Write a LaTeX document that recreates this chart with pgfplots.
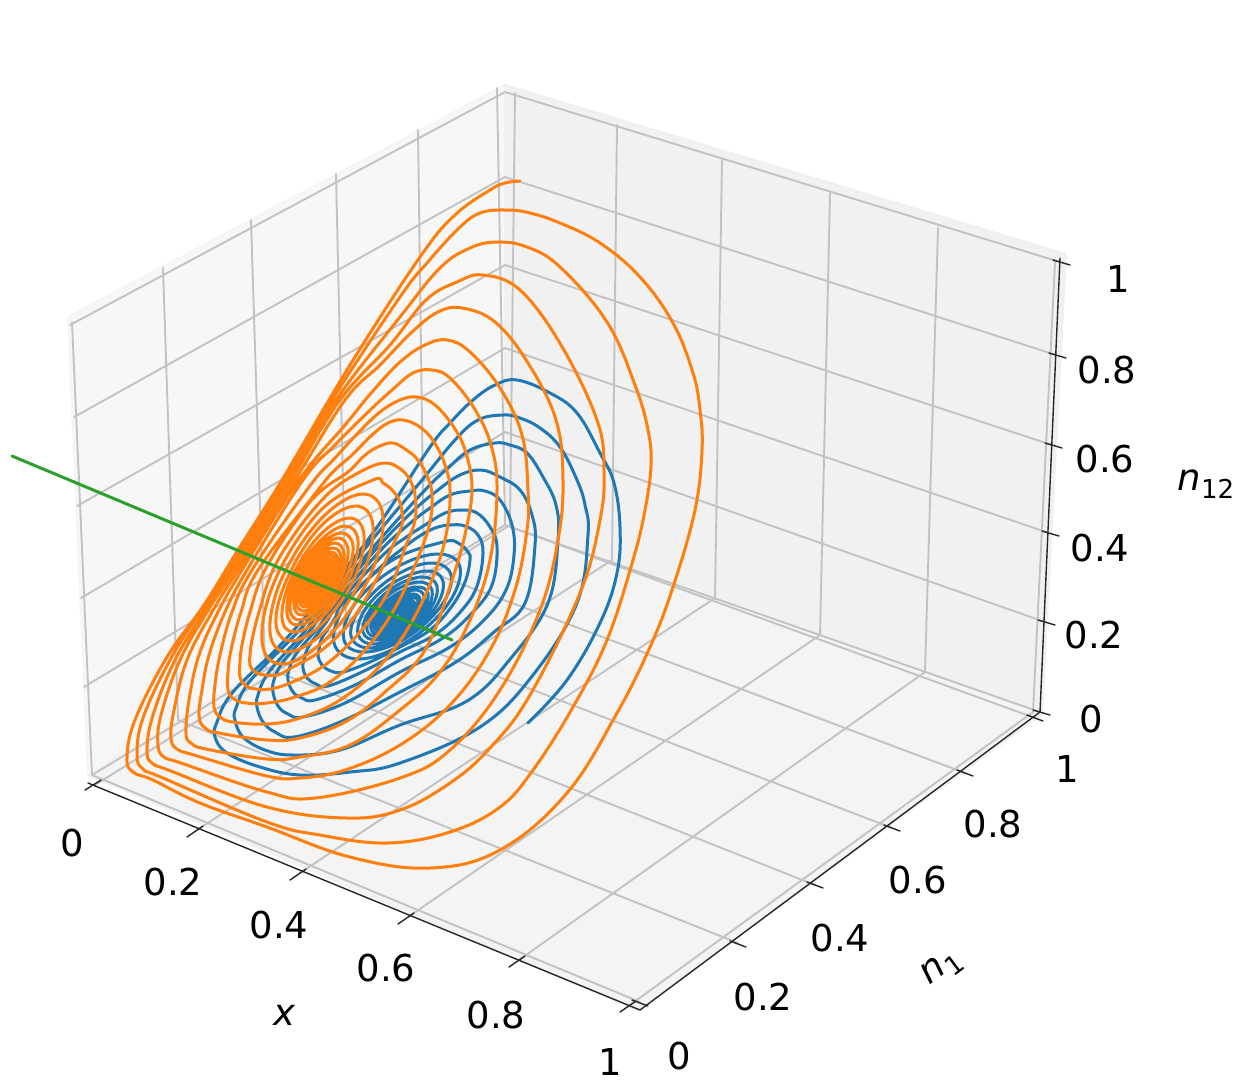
\documentclass[border=0pt]{standalone}
\usepackage{pgfplots}
\pgfplotsset{compat=1.18}
\usepackage{fontspec}
\setmainfont{DejaVu Sans}
\definecolor{cblue}{HTML}{1F77B4}
\definecolor{corange}{HTML}{FF7F0E}
\definecolor{cgreen}{HTML}{2CA02C}
\definecolor{gridc}{HTML}{C2C2C2}
\newcommand{\tl}{\fontsize{18.5}{22}\selectfont}
\begin{document}
\begin{tikzpicture}
\begin{axis}[
  scale only axis, width=628pt, height=541.5pt,
  xmin=0, xmax=1256, ymin=0, ymax=1083, y dir=reverse,
  hide axis, clip=true, no markers,
  every axis plot/.append style={line join=round, line cap=round},
]
% background and panes
\addplot[fill=white,draw=none] coordinates {(0,0)(1256,0)(1256,1083)(0,1083)(0,0)};
\addplot[fill=black!3,draw=black!4,line width=1pt] coordinates {(505,85)(68,317)(88,775)(505,521)(505,85)};
\addplot[fill=black!5.5,draw=black!6,line width=1pt] coordinates {(505,85)(1066,254)(1042,714)(505,521)(505,85)};
\addplot[fill=black!4.5,draw=black!5,line width=1pt] coordinates {(505,521)(88,775)(637,1010)(1042,714)(505,521)};
% grid: left wall
\pgfplotsset{gr/.style={gridc,line width=0.95pt}}
\addplot[gr] coordinates {(72,322)(92,775)};
\addplot[gr] coordinates {(163,268)(178,720)};
\addplot[gr] coordinates {(251,220)(265,667)};
\addplot[gr] coordinates {(336,174)(346,618)};
\addplot[gr] coordinates {(418,130)(424,570)};
\addplot[gr] coordinates {(497,88)(505,525)};
\addplot[gr] coordinates {(92,775)(505,525)};
\addplot[gr] coordinates {(84,687)(505,432)};
\addplot[gr] coordinates {(81,598)(505,348)};
\addplot[gr] coordinates {(77,506)(505,265)};
\addplot[gr] coordinates {(74,417)(505,177)};
\addplot[gr] coordinates {(70,325)(505,92)};
% grid: right wall
\addplot[gr] coordinates {(515,93)(510,525)};
\addplot[gr] coordinates {(617,125)(612,560)};
\addplot[gr] coordinates {(722,160)(715,598)};
\addplot[gr] coordinates {(830,193)(820,635)};
\addplot[gr] coordinates {(938,228)(925,672)};
\addplot[gr] coordinates {(1055,262)(1033,712)};
\addplot[gr] coordinates {(505,92)(1060,262)};
\addplot[gr] coordinates {(505,177)(1056,355)};
\addplot[gr] coordinates {(505,265)(1052,445)};
\addplot[gr] coordinates {(505,348)(1049,533)};
\addplot[gr] coordinates {(505,432)(1045,622)};
\addplot[gr] coordinates {(505,525)(1040,712)};
% grid: floor
\addplot[gr] coordinates {(95,785)(510,525)};
\addplot[gr] coordinates {(197,830)(612,560)};
\addplot[gr] coordinates {(300,873)(715,598)};
\addplot[gr] coordinates {(408,917)(820,635)};
\addplot[gr] coordinates {(519,960)(925,672)};
\addplot[gr] coordinates {(630,1005)(1033,712)};
\addplot[gr] coordinates {(92,775)(640,1002)};
\addplot[gr] coordinates {(178,720)(738,943)};
\addplot[gr] coordinates {(265,667)(815,885)};
\addplot[gr] coordinates {(346,618)(892,828)};
\addplot[gr] coordinates {(424,570)(965,773)};
\addplot[gr] coordinates {(505,525)(1035,718)};
% axes
\pgfplotsset{ax/.style={black!85,line width=0.7pt}}
\addplot[ax] coordinates {(88,783)(640,1010)(1040,712)(1060,258)};
\addplot[ax] coordinates {(85,790)(101,780)};
\addplot[ax] coordinates {(187,837)(203,826)};
\addplot[ax] coordinates {(290,880)(306,869)};
\addplot[ax] coordinates {(398,924)(414,913)};
\addplot[ax] coordinates {(509,967)(525,956)};
\addplot[ax] coordinates {(620,1012)(636,1001)};
\addplot[ax] coordinates {(632,1000)(648,1006)};
\addplot[ax] coordinates {(730,941)(746,947)};
\addplot[ax] coordinates {(807,882)(823,888)};
\addplot[ax] coordinates {(884,825)(900,831)};
\addplot[ax] coordinates {(957,770)(973,776)};
\addplot[ax] coordinates {(1027,715)(1043,721)};
\addplot[ax] coordinates {(1033,710)(1050,715)};
\addplot[ax] coordinates {(1038,620)(1055,625)};
\addplot[ax] coordinates {(1042,531)(1059,536)};
\addplot[ax] coordinates {(1045,443)(1062,448)};
\addplot[ax] coordinates {(1049,353)(1066,358)};
\addplot[ax] coordinates {(1053,260)(1070,265)};
% blue curve
\addplot[cblue,line width=1.5pt,smooth,tension=0.65] coordinates {
(528,723)(567,680)(600,623)(617,573)(620,527)(614,483)(600,453)(577,413)(550,393)(517,380)
(495,385)(473,400)(450,423)(430,447)(380,523)(340,575)(285,640)(233,692)(217,722)(215,737)(227,753)(260,767)(300,775)(350,772)(400,763)(480,727)(533,675)(577,603)(588,535)(585,505)(577,480)(560,447)(540,428)(520,418)(503,415)
(478,420)(455,440)(422,480)(372,540)(322,603)(294,636)(250,681)(236,708)(235,720)(243,737)(265,750)(293,755)(340,750)(400,725)(467,701)(511,658)(548,603)(558,540)(556,505)(543,477)(527,453)(510,445)(495,443)
(470,450)(448,468)(425,490)(375,545)(326,603)(304,632)(269,672)(258,695)(257,707)(263,722)(275,732)(294,737)(340,722)(400,692)(456,662)(494,632)(525,603)(535,545)(532,515)(520,490)(500,477)(481,470)
(460,475)(438,490)(412,512)(377,548)(330,603)(312,628)(283,662)(274,680)(273,692)(278,706)(288,714)(303,717)(345,703)(400,672)(450,647)(484,620)(506,590)(514,555)(512,525)(500,500)(485,491)(470,491)
(450,495)(430,508)(408,525)(380,551)(335,603)(320,625)(296,654)(289,670)(288,680)(293,692)(302,698)(315,700)(355,685)(400,660)(443,638)(472,613)(492,585)(497,547)(490,527)(477,513)(462,510)
(445,513)(425,525)(405,538)(382,556)(339,603)(327,621)(309,646)(304,660)(303,668)(307,678)(316,684)(328,686)(362,672)(400,652)(436,634)(462,610)(477,586)(483,553)(478,535)(465,526)(450,525)
(435,528)(418,537)(402,549)(385,563)(343,603)(335,618)(322,638)(319,650)(318,656)(322,665)(331,671)(343,672)(370,662)(400,647)(430,630)(452,606)(465,582)(470,560)(468,552)(458,543)(443,542)
(391,561)(347,603)(334,643)(360,659)(408,641)(448,604)(460,567)(436,554)
(392,570)(354,605)(344,640)(366,652)(406,638)(441,606)(451,575)(430,563)
(393,577)(361,607)(351,636)(370,648)(405,635)(435,608)(443,581)(426,571)
(393,583)(366,608)(358,634)(374,644)(404,633)(430,609)(437,586)(422,577)
(394,587)(370,610)(363,632)(377,640)(403,631)(426,610)(432,590)(419,582)
(394,591)(373,611)(367,630)(379,637)(402,629)(422,611)(428,593)(416,587)
(395,595)(376,612)(371,629)(382,635)(402,628)(419,612)(424,596)(414,590)
(395,598)(379,613)(374,627)(384,633)(401,626)(416,613)(420,599)(412,594)
(395,600)(381,613)(377,626)(385,631)(401,625)(414,613)(418,601)(410,597)
(395,602)(383,614)(380,625)(387,629)(400,625)(412,614)(415,603)(408,600)
(396,604)(385,614)(382,624)(388,628)(400,624)(410,614)(413,605)(407,602)
(396,606)(386,615)(384,623)(389,626)(399,623)(408,615)(411,607)(405,604)
(396,607)(388,615)(386,622)(390,625)(399,622)(407,615)(409,608)(404,606)
(396,609)(389,616)(387,622)(391,624)(399,621)(405,616)(407,609)(403,608)
(396,610)(390,616)(388,621)(392,623)(398,621)(404,616)(405,610)(402,609)
(396,611)(391,616)(390,621)(393,622)(398,620)(403,616)(404,611)(401,610)
(397,612)(392,616)(391,620)(394,621)(398,620)(402,616)(403,612)(400,612)(396,614)(393,617)(393,619)(396,619)(400,616)(401,614)
};
% orange curve
\addplot[corange,line width=1.5pt,smooth,tension=0.65] coordinates {
(520,181)(505,183)(490,190)(455,215)(420,257)(350,365)(282,480)(238,550)(204,605)(167,657)(135,720)(127,758)(133,772)(153,780)(200,803)(267,827)(350,857)(430,868)(500,850)(567,793)(617,713)(650,647)(673,587)(695,510)(702,450)(700,410)(693,373)(673,323)(640,277)(600,243)(560,223)(530,213)(507,210)
(480,213)(458,229)(427,263)(400,297)(332,400)(285,480)(228,570)(200,612)(170,660)(143,718)(137,755)(143,769)(163,778)(267,822)(320,835)(387,843)(450,832)(500,807)(533,770)(573,707)(607,640)(633,560)(645,510)(651,465)(648,430)(635,385)(607,322)(560,267)(527,247)(497,242)
(470,248)(440,268)(400,317)(336,400)(288,480)(231,570)(204,612)(175,660)(153,715)(147,750)(152,763)(171,771)(267,807)(347,818)(400,810)(450,783)(490,748)(530,695)(580,593)(600,520)(604,470)(597,420)(561,345)(520,290)(483,275)
(457,282)(426,300)(390,345)(340,400)(291,480)(234,570)(207,612)(180,660)(161,715)(158,745)(164,757)(181,763)(267,792)(315,798)(400,778)(450,750)(500,690)(540,610)(558,540)(563,480)(556,420)(528,363)(495,322)(462,308)
(438,312)(412,332)(380,365)(345,400)(295,480)(238,570)(212,612)(187,660)(174,710)(171,738)(177,749)(194,755)(267,776)(300,778)(345,770)(400,745)(450,705)(490,650)(515,590)(527,530)(528,490)(522,435)(500,388)(470,352)(447,340)
(425,345)(400,362)(372,392)(345,425)(299,480)(242,570)(218,612)(199,655)(189,700)(186,733)(191,743)(206,749)(267,759)(300,757)(350,745)(400,710)(440,672)(470,620)(490,560)(497,490)(491,445)(474,408)(450,378)(432,370)
(413,373)(392,390)(365,415)(335,445)(303,480)(247,570)(225,612)(209,655)(202,690)(199,716)(205,728)(219,733)(267,740)(300,738)(345,722)(385,692)(425,650)(452,580)(466,530)(472,487)(465,450)(453,426)(435,405)(417,397)
(400,400)(380,412)(358,433)(335,458)(309,487)(252,570)(232,612)(220,655)(215,685)(214,707)(220,717)(233,722)(267,724)(300,718)(340,700)(378,668)(410,625)(435,572)(447,530)(450,490)(445,465)(434,442)(420,427)(403,420)
(388,423)(372,435)(352,455)(335,470)(318,490)(258,570)(241,612)(231,650)(228,672)(228,690)(234,699)(246,703)(267,703)(295,697)(330,682)(365,650)(395,608)(418,558)(430,522)(432,495)(428,478)(418,460)(405,449)(393,443)
(380,446)(365,455)(348,472)(322,490)(300,515)(265,570)(250,612)(242,645)(240,662)(240,677)(246,686)(256,689)(270,689)(290,683)(325,665)(360,632)(388,592)(405,548)(415,520)(415,495)(411,482)(405,473)(396,466)(387,463)
(375,465)(358,473)(340,484)(322,500)(296,532)(273,570)(259,612)(252,640)(250,655)(250,665)(255,672)(265,675)(278,675)(291,668)(322,650)(352,620)(375,582)(393,545)(402,525)(402,512)(399,500)(392,490)(383,483)(373,480)
(321,510)(276,578)(262,641)(283,664)(327,638)(369,578)(383,517)(362,494)
(320,520)(282,578)(270,632)(288,652)(326,630)(361,579)(373,526)(355,506)
(319,528)(287,579)(276,624)(292,641)(324,622)(354,579)(364,535)(349,518)
(319,536)(291,579)(282,618)(295,632)(323,616)(349,579)(358,541)(345,526)
(319,542)(294,579)(287,613)(298,625)(322,612)(345,579)(353,546)(341,533)
(318,547)(297,579)(290,609)(300,620)(321,608)(341,579)(348,550)(338,538)
(318,551)(299,579)(294,605)(302,615)(321,604)(338,579)(344,554)(335,543)
(318,554)(301,579)(296,602)(304,611)(320,601)(336,579)(341,557)(333,548)
(318,557)(303,579)(299,599)(305,607)(320,599)(333,579)(338,560)(331,552)
(317,560)(305,580)(301,597)(307,604)(319,597)(331,580)(336,562)(329,555)
(317,563)(306,580)(303,595)(308,601)(319,595)(329,580)(333,564)(328,558)
(317,565)(307,580)(304,593)(309,598)(319,593)(328,580)(331,566)(326,561)
(317,567)(308,580)(306,592)(310,596)(318,591)(326,580)(329,568)(325,563)
(317,568)(309,580)(307,590)(311,594)(318,590)(325,580)(327,569)(324,565)
(317,570)(310,580)(308,589)(312,592)(318,589)(324,580)(326,571)(323,567)
(317,571)(311,580)(309,588)(312,590)(318,588)(323,580)(324,572)(322,568)
(317,572)(312,580)(310,587)(313,589)(318,587)(322,580)(323,573)(321,570)
(317,573)(313,580)(311,586)(314,588)(318,586)(321,580)(322,574)(320,572)
(317,574)(314,580)(312,585)(315,586)(318,585)(320,580)(321,575)(319,573)
(317,575)(315,580)(314,584)(316,585)(318,584)(319,580)(319,576)(318,575)(316,580)(317,582)
};
% green line
\addplot[cgreen,line width=1.5pt] coordinates {(12,456)(452,640)};
% tick labels
\node[font=\tl] at (axis cs:72,843) {0};
\node[font=\tl] at (axis cs:173,882) {0.2};
\node[font=\tl] at (axis cs:279,925) {0.4};
\node[font=\tl] at (axis cs:386,968) {0.6};
\node[font=\tl] at (axis cs:496,1015) {0.8};
\node[font=\tl] at (axis cs:610,1062) {1};
\node[font=\tl] at (axis cs:679,1056) {0};
\node[font=\tl] at (axis cs:763,997) {0.2};
\node[font=\tl] at (axis cs:840,938) {0.4};
\node[font=\tl] at (axis cs:918,880) {0.6};
\node[font=\tl] at (axis cs:993,824) {0.8};
\node[font=\tl] at (axis cs:1067,769) {1};
\node[font=\tl] at (axis cs:1118,279) {1};
\node[font=\tl] at (axis cs:1107,370) {0.8};
\node[font=\tl] at (axis cs:1105,459) {0.6};
\node[font=\tl] at (axis cs:1100,548) {0.4};
\node[font=\tl] at (axis cs:1094,635) {0.2};
\node[font=\tl] at (axis cs:1091,719) {0};
% axis labels
\node[font=\tl\itshape] at (axis cs:284,1015) {x};
\node[font=\tl,rotate=37] at (axis cs:942,968) {\textit{n}\raisebox{-0.4ex}{\fontsize{13}{13}\selectfont 1}};
\node[font=\tl] at (axis cs:1206,484) {\textit{n}\raisebox{-0.4ex}{\fontsize{13}{13}\selectfont 12}};
\end{axis}
\end{tikzpicture}
\end{document}
